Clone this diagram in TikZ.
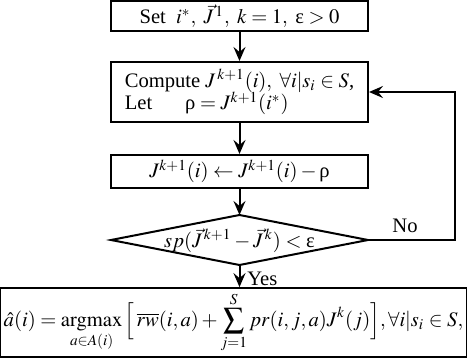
\documentclass[tikz,border=0pt]{standalone}
\usepackage{amsmath}
\usepackage{mathptmx}
\usepackage{fontspec}
\setmainfont{Liberation Serif}
\usetikzlibrary{arrows.meta}
\newcommand{\urho}{\text{ρ}}
\newcommand{\ueps}{\text{ε}}
\tikzset{
  box/.style={draw, line width=1pt, minimum width=128.5pt, inner sep=2pt, font=\fontsize{10.3}{12.4}\selectfont},
  arr/.style={line width=1pt, -{Stealth[length=7pt,width=6pt,inset=2.5pt]}},
  lbl/.style={font=\fontsize{10.3}{12.4}\selectfont, inner sep=0pt}
}
\begin{document}
\begin{tikzpicture}[x=0.5pt,y=-0.5pt]
\useasboundingbox (0,0) rectangle (467,358);
\node[box, minimum height=13pt] (b1) at (239.5,16) {Set\ \ $i^*,\ \vec{J}^{\,1},\ k=1,\ \ueps>0$};
\node[box, minimum height=30pt, align=left] (b2) at (239.5,92) {Compute $J^{\,k+1}(i),\ \forall i|s_i\in S$,\\[-1pt] Let\hspace{1.6em}$\urho = J^{k+1}(i^*)$};
\node[box, minimum height=16.5pt] (b3) at (239.5,171.5) {$J^{k+1}(i)\leftarrow J^{k+1}(i)-\urho$};
\coordinate (dN) at (239.5,215);
\coordinate (dS) at (239.5,265);
\coordinate (dE) at (368,240);
\coordinate (dW) at (111,240);
\draw[line width=1pt] (dN) -- (dE) -- (dS) -- (dW) -- cycle;
\node[lbl] (d) at (239.5,240.5) {$sp(\vec{J}^{\,k+1}-\vec{J}^{\,k})<\ueps$};
\node[box, minimum width=228.5pt, minimum height=31.5pt] (b4) at (233.5,322.5) {$\displaystyle \hat{a}(i)=\operatorname*{argmax}_{a\in A(i)}\Big[\,\overline{rw}(i,a)+\sum_{j=1}^{S} pr(i,j,a)J^{k}(j)\Big],\forall i|s_i\in S,$};
\draw[arr] (b1.south) -- (b2.north);
\draw[arr] (b2.south) -- (b3.north);
\draw[arr] (b3.south) -- (dN);
\draw[arr] (dS) -- (b4.north -| dS);
\coordinate (fb) at (455,240);
\draw[arr] (dE) -- (fb) |- (b2.east);
\node[lbl, anchor=south] (no) at (405,233) {No};
\node[lbl, anchor=west] (yes) at (247,279) {Yes};
\end{tikzpicture}
\end{document}
